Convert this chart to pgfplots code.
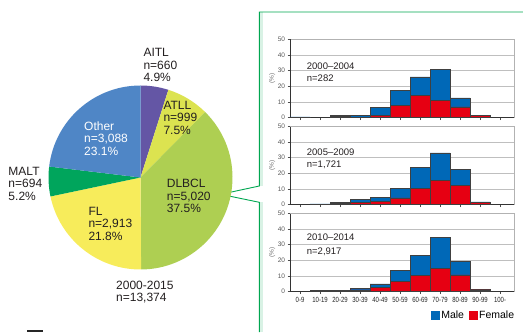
\documentclass[border=0pt]{standalone}
\usepackage{pgfplots}
\usepackage{pgfplotstable}
\pgfplotsset{compat=1.18}
\usepackage{fontspec}
\setmainfont{Liberation Sans}
\newfontfamily\condfont[FakeStretch=0.8]{Liberation Sans}
\definecolor{aitl}{HTML}{6456A5}
\definecolor{atll}{HTML}{DCE350}
\definecolor{dlbcl}{HTML}{AECF52}
\definecolor{fl}{HTML}{F7EC5B}
\definecolor{malt}{HTML}{00A55C}
\definecolor{other}{HTML}{4F86C6}
\definecolor{male}{HTML}{0068B7}
\definecolor{female}{HTML}{E60012}
\definecolor{txt}{HTML}{231F20}
\definecolor{grn}{HTML}{00A650}

% percent per age group: F = female, M = male (stacked on top)
\pgfplotstableread{
x F M
0 0 0.35
1 0 0
2 0.8 0.4
3 0.3 1.2
4 1.6 4.7
5 7.8 9.5
6 14.2 11.8
7 10.8 20.0
8 6.8 5.7
9 1.1 0.4
10 0 0
}\tabA
\pgfplotstableread{
x F M
0 0 0
1 0.2 0.2
2 0.8 0.3
3 1.5 1.7
4 2.0 2.8
5 4.2 6.1
6 10.5 13.3
7 15.2 17.9
8 12.4 10.2
9 1.3 0.4
10 0 0
}\tabB
\pgfplotstableread{
x F M
0 0 0
1 0.3 0.2
2 0.5 0.4
3 1.0 0.9
4 2.4 2.5
5 6.4 7.1
6 10.1 12.9
7 14.6 19.9
8 10.7 8.6
9 1.0 0.4
10 0 0
}\tabC

\pgfplotsset{hist/.style={
  scale only axis, width=224bp, height=78bp,
  xmin=-0.5, xmax=10.7, ymin=0, ymax=50,
  ybar stacked, bar width=1,
  xtick={0,...,10}, xticklabels={}, ytick={0,10,...,50},
  tick align=outside, tick pos=left,
  major tick length=2.5bp,
  tick style={black!70, line width=0.5pt},
  ymajorgrids, grid style={gray!50, line width=0.6pt},
  axis line style={gray!60, line width=0.6pt},
  /pgf/number format/assume math mode=true,
  yticklabel style={font=\fontsize{6.5bp}{7bp}\selectfont, text=black!65, xshift=1bp},
  ylabel={(\%)},
  every axis y label/.style={at={(axis description cs:-0.08,0.5)}, rotate=90, anchor=center, font=\fontsize{6.5bp}{7bp}\selectfont, text=black!55},
  every axis plot/.append style={draw=black!75, line width=0.6pt},
  clip=false,
}}

\newcommand\tl[3]{\node[anchor=base west, inner sep=0pt, font=\fontsize{12bp}{12bp}\selectfont, text=txt] at (#1,#2) {#3};}
\newcommand\tw[3]{\node[anchor=base west, inner sep=0pt, font=\fontsize{12bp}{12bp}\selectfont, text=white] at (#1,#2) {#3};}
\newcommand\thist[3]{\node[anchor=base west, inner sep=0pt, font=\fontsize{9.5bp}{10bp}\selectfont, text=txt] at (#1,#2) {#3};}

\begin{document}
\begin{tikzpicture}[x=1bp,y=1bp]
\useasboundingbox (0,0) rectangle (523,332);

% green callout box
\fill[grn!15] (260,0) rectangle (263,129.7);
\fill[grn!15] (260,146) rectangle (263,319.5);
\draw[grn, line width=0.9pt] (523,320) -- (259.3,320) -- (259.3,146) -- (220.7,137.7) -- (259.3,129.7) -- (259.3,0);
\fill[black!85] (27,0) rectangle (43,2.5);

% pie
\begin{axis}[at={(48.5bp,62.5bp)}, anchor=south west, scale only axis, width=184bp, height=184bp,
  xmin=-1, xmax=1, ymin=-1, ymax=1, hide axis, clip=false]
\fill[aitl]  (axis cs:0,0) -- (axis cs:{cos(90)},{sin(90)}) arc[start angle=90, delta angle=-4.9*3.6, radius=92bp] -- cycle;
\fill[atll]  (axis cs:0,0) -- (axis cs:{cos(72.36)},{sin(72.36)}) arc[start angle=72.36, delta angle=-7.5*3.6, radius=92bp] -- cycle;
\fill[dlbcl] (axis cs:0,0) -- (axis cs:{cos(45.36)},{sin(45.36)}) arc[start angle=45.36, delta angle=-37.5*3.6, radius=92bp] -- cycle;
\fill[fl]    (axis cs:0,0) -- (axis cs:{cos(-89.64)},{sin(-89.64)}) arc[start angle=-89.64, delta angle=-21.8*3.6, radius=92bp] -- cycle;
\fill[malt]  (axis cs:0,0) -- (axis cs:{cos(-168.12)},{sin(-168.12)}) arc[start angle=-168.12, delta angle=-5.2*3.6, radius=92bp] -- cycle;
\fill[other] (axis cs:0,0) -- (axis cs:{cos(-186.84)},{sin(-186.84)}) arc[start angle=-186.84, delta angle=-23.1*3.6, radius=92bp] -- cycle;
\end{axis}

% pie labels
\tl{143.3}{275.5}{AITL}\tl{143.3}{263}{n=660}\tl{143.3}{250.5}{4.9\%}
\tl{163.3}{223}{ATLL}\tl{163.3}{210.5}{n=999}\tl{163.3}{198}{7.5\%}
\tw{84}{202}{Other}\tw{84}{189.5}{n=3,088}\tw{84}{177}{23.1\%}
\tl{8.3}{157}{MALT}\tl{8.3}{144.5}{n=694}\tl{8.3}{132}{5.2\%}
\tl{166.7}{144.3}{DLBCL}\tl{166.7}{131.8}{n=5,020}\tl{166.7}{119.3}{37.5\%}
\tl{88.3}{117}{FL}\tl{88.3}{104.5}{n=2,913}\tl{88.3}{92}{21.8\%}
\tl{116}{42.7}{2000-2015}\tl{116}{30.7}{n=13,374}

% histograms
\begin{axis}[hist, at={(290bp,214.5bp)}, anchor=south west]
\addplot[fill=female] table[x=x,y=F] {\tabA};
\addplot[fill=male] table[x=x,y=M] {\tabA};
\draw[black!80, line width=0.7pt] (rel axis cs:0,1) -- (rel axis cs:0,0) -- (rel axis cs:1,0);
\end{axis}
\begin{axis}[hist, at={(290bp,127.5bp)}, anchor=south west]
\addplot[fill=female] table[x=x,y=F] {\tabB};
\addplot[fill=male] table[x=x,y=M] {\tabB};
\draw[black!80, line width=0.7pt] (rel axis cs:0,1) -- (rel axis cs:0,0) -- (rel axis cs:1,0);
\end{axis}
\begin{axis}[hist, at={(290bp,40.5bp)}, anchor=south west,
  xticklabels={\mbox{0-9},\mbox{10-19},\mbox{20-29},\mbox{30-39},\mbox{40-49},\mbox{50-59},\mbox{60-69},\mbox{70-79},\mbox{80-89},\mbox{90-99},\mbox{100-}},
  xticklabel style={font=\condfont\fontsize{7.5bp}{8bp}\selectfont, text=black!85},
  legend style={at={(1.005,-0.235)}, anchor=north east, draw=none, fill=none,
    font=\fontsize{10.5bp}{11bp}\selectfont, legend columns=2, inner sep=0pt,
    /tikz/every even column/.append style={column sep=4bp},
    nodes={inner sep=0.8bp}},
  legend image code/.code={\fill[#1] (0bp,-4.75bp) rectangle (9.5bp,4.75bp);}]
\addlegendimage{fill=male, draw=none}
\addlegendimage{fill=female, draw=none}
\addplot[fill=female, forget plot] table[x=x,y=F] {\tabC};
\addplot[fill=male, forget plot] table[x=x,y=M] {\tabC};
\draw[black!80, line width=0.7pt] (rel axis cs:0,1) -- (rel axis cs:0,0) -- (rel axis cs:1,0);
\legend{Male,Female}
\end{axis}

\thist{306.7}{263}{2000–2004}\thist{306.7}{250.3}{n=282}
\thist{306.7}{177}{2005–2009}\thist{306.7}{164.7}{n=1,721}
\thist{306.7}{91.3}{2010–2014}\thist{306.7}{78}{n=2,917}
\end{tikzpicture}
\end{document}
